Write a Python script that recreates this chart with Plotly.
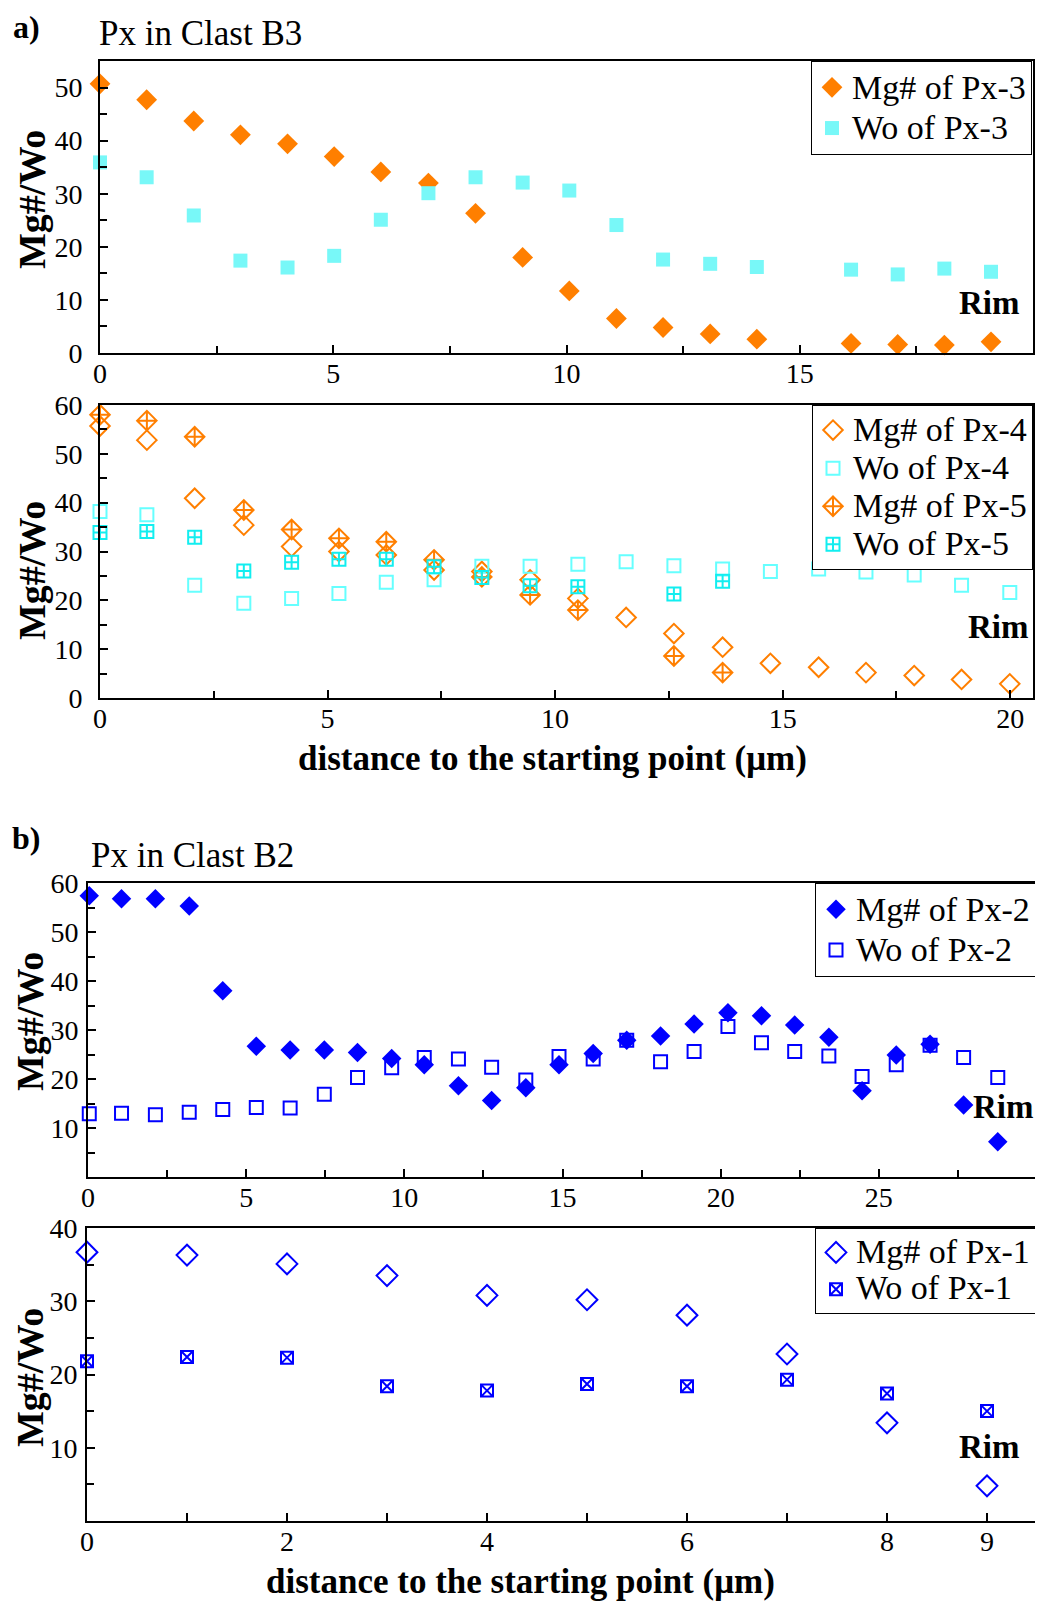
import plotly.graph_objects as go

SERIF = "Liberation Serif, Times New Roman, serif"
ORANGE = "#FF7F00"
CYAN_LIGHT = "#78F8F8"
CYAN_OPEN = "#66FFFF"
CYAN_X = "#12EEF0"
BLUE = "#0000FF"

# ---------------- Panel a (top): Px-3 ----------------
x_px3 = [0, 1.0, 2.01, 3.01, 4.02, 5.02, 6.02, 7.04, 8.05, 9.06, 10.06,
         11.07, 12.07, 13.08, 14.08, 16.1, 17.1, 18.1, 19.1]
mg_px3 = [50.7, 47.7, 43.7, 41.1, 39.4, 37.0, 34.1, 32.0, 26.3, 18.0, 11.7,
          6.5, 4.8, 3.6, 2.6, 1.8, 1.6, 1.5, 2.1]
wo_px3 = [35.9, 33.1, 25.9, 17.4, 16.1, 18.3, 25.1, 30.1, 33.1, 32.1, 30.6,
          24.1, 17.6, 16.8, 16.2, 15.7, 14.8, 15.9, 15.3]

# ---------------- Panel a (bottom): Px-4, Px-5 ----------------
x_px4 = [0, 1.03, 2.08, 3.16, 4.21, 5.25, 6.29, 7.34, 8.39, 9.45, 10.5,
         11.56, 12.61, 13.68, 14.73, 15.79, 16.83, 17.89, 18.93, 19.99]
mg_px4 = [55.7, 52.8, 40.9, 35.4, 31.0, 30.0, 29.3, 26.2, 25.9, 24.2, 20.4,
          16.5, 13.2, 10.4, 7.1, 6.3, 5.2, 4.6, 3.8, 2.9]
wo_px4 = [38.2, 37.5, 23.1, 19.4, 20.4, 21.4, 23.7, 24.2, 27.0, 27.0, 27.4,
          27.9, 27.1, 26.4, 25.9, 26.4, 25.8, 25.2, 23.1, 21.6]
x_px5 = [0, 1.03, 2.08, 3.16, 4.21, 5.25, 6.29, 7.34, 8.39, 9.45, 10.5,
         12.61, 13.68]
mg_px5 = [58.0, 56.8, 53.5, 38.5, 34.5, 32.7, 32.0, 28.3, 24.8, 21.1, 18.0,
          8.6, 5.2]
wo_px5 = [33.9, 34.1, 32.9, 26.0, 27.8, 28.4, 28.4, 26.9, 24.7, 23.0, 22.8,
          21.3, 23.9]

# ---------------- Panel b (top): Px-2 ----------------
x_px2 = [0.04, 1.06, 2.13, 3.2, 4.26, 5.32, 6.39, 7.47, 8.52, 9.6, 10.63,
         11.71, 12.76, 13.84, 14.89, 15.97, 17.03, 18.1, 19.16, 20.23, 21.29,
         22.34, 23.42, 24.47, 25.55, 26.62, 27.68, 28.76]
mg_px2 = [57.4, 56.8, 56.8, 55.3, 38.0, 26.7, 25.9, 25.9, 25.4, 24.2, 22.9,
          18.6, 15.6, 18.2, 22.9, 25.2, 27.9, 28.8, 31.2, 33.5, 32.9, 31.0,
          28.5, 17.6, 24.9, 27.1, 14.7, 7.2]
wo_px2 = [12.9, 13.0, 12.7, 13.2, 13.8, 14.2, 14.1, 16.9, 20.3, 22.3, 24.4,
          24.1, 22.4, 19.8, 24.6, 24.1, 27.9, 23.5, 25.6, 30.7, 27.4, 25.6,
          24.7, 20.5, 22.9, 26.9, 24.4, 20.3]

# ---------------- Panel b (bottom): Px-1 ----------------
x_px1 = [0, 1, 2, 3, 4, 5, 6, 7, 8, 9]
mg_px1 = [36.7, 36.3, 35.1, 33.5, 30.8, 30.2, 28.1, 22.8, 13.4, 4.8]
wo_px1 = [21.8, 22.4, 22.3, 18.4, 17.8, 18.7, 18.4, 19.3, 17.4, 15.0]

# tick labels
x4_ticks = [0, 1, 2, 3, 4, 5, 6, 7, 8, 9]
x4_text = ["0", "", "2", "", "4", "", "6", "", "8", "9"]

# the page body has an 8px margin: the figure starts 8px in from the corner
OFF = 8
W, H = 1043 - OFF, 1602 - OFF


def px_x(p):
    return min(1.0, max(0.0, (p - OFF) / W))


def px_y(p):
    return min(1.0, max(0.0, 1 - (p - OFF) / H))


def lname(t):
    return '<span style="font-size:34px">' + t + "</span>"


fig = go.Figure()


def sc(x, y, name, xa, ya, leg, symbol, size, color, lw=0):
    marker = dict(symbol=symbol, size=size, color=color,
                  line=dict(color=color, width=lw))
    fig.add_trace(go.Scatter(x=x, y=y, name=lname(name), mode="markers",
                             marker=marker, xaxis=xa, yaxis=ya, legend=leg,
                             cliponaxis=False))


sc(x_px3, mg_px3, "Mg# of Px-3", "x", "y", "legend", "diamond", 16, ORANGE)
sc(x_px3, wo_px3, "Wo of Px-3", "x", "y", "legend", "square", 14, CYAN_LIGHT)

sc(x_px4, mg_px4, "Mg# of Px-4", "x2", "y2", "legend2", "diamond-open", 15, ORANGE, 2)
sc(x_px4, wo_px4, "Wo of Px-4", "x2", "y2", "legend2", "square-open", 13, CYAN_OPEN, 2)
sc(x_px5, mg_px5, "Mg# of Px-5", "x2", "y2", "legend2", "diamond-cross-open", 15, ORANGE, 2)
sc(x_px5, wo_px5, "Wo of Px-5", "x2", "y2", "legend2", "square-cross-open", 13, CYAN_X, 2)

sc(x_px2, mg_px2, "Mg# of Px-2", "x3", "y3", "legend3", "diamond", 15, BLUE)
sc(x_px2, wo_px2, "Wo of Px-2", "x3", "y3", "legend3", "square-open", 13, BLUE, 2)

sc(x_px1, mg_px1, "Mg# of Px-1", "x4", "y4", "legend4", "diamond-open", 16, BLUE, 2)
sc(x_px1, wo_px1, "Wo of Px-1", "x4", "y4", "legend4", "square-x-open", 12, BLUE, 2)

tickfont = dict(family=SERIF, size=28, color="black")


def xaxis(dom, anchor, rng, dtick=None, minor_dtick=None, tickvals=None,
          ticktext=None):
    d = dict(domain=[px_x(dom[0]), px_x(dom[1])], range=rng, anchor=anchor,
             showline=True, linecolor="black", linewidth=2, mirror=True,
             ticks="inside", ticklen=8, tickwidth=2, tickcolor="black",
             showgrid=False, zeroline=False, tickfont=tickfont,
             ticklabelstandoff=-6, fixedrange=True, automargin=False)
    if tickvals is not None:
        d.update(tickmode="array", tickvals=tickvals, ticktext=ticktext)
    else:
        d.update(tick0=0, dtick=dtick)
    if minor_dtick:
        d["minor"] = dict(ticks="inside", ticklen=7, tickwidth=2,
                          tickcolor="black", dtick=minor_dtick, tick0=0,
                          showgrid=False)
    return d


def yaxis(dom, anchor, rng, tickvals, standoff):
    return dict(domain=[px_y(dom[0]), px_y(dom[1])], range=rng, anchor=anchor,
                showline=True, linecolor="black", linewidth=2, mirror=True,
                ticks="inside", ticklen=8, tickwidth=2, tickcolor="black",
                showgrid=False, zeroline=False, tickfont=tickfont,
                tickmode="array", tickvals=tickvals,
                ticklabelstandoff=standoff,
                minor=dict(ticks="inside", ticklen=7, tickwidth=2,
                           tickcolor="black", dtick=5, tick0=0, showgrid=False),
                fixedrange=True, automargin=False)


fig.update_layout(
    width=W, height=H, autosize=False,
    margin=dict(l=0, r=0, t=0, b=0, pad=0, autoexpand=False),
    paper_bgcolor="white", plot_bgcolor="white",
    font=dict(family=SERIF, color="black"),
    xaxis=xaxis((100, 1033), "y", [0, 20], dtick=5, minor_dtick=2.5),
    yaxis=yaxis((353, 61), "x", [0, 55], [0, 10, 20, 30, 40, 50], 10),
    xaxis2=xaxis((100, 1033), "y2", [0, 20.5], dtick=5, minor_dtick=2.5),
    yaxis2=yaxis((698, 405), "x2", [0, 60], [0, 10, 20, 30, 40, 50, 60], 10),
    xaxis3=xaxis((88, 1037), "y3", [0, 30], dtick=5, minor_dtick=2.5),
    yaxis3=yaxis((1177, 883), "x3", [0, 60], [10, 20, 30, 40, 50, 60], 2),
    xaxis4=xaxis((87, 1037), "y4", [0, 9.5], tickvals=x4_ticks, ticktext=x4_text),
    yaxis4=yaxis((1521, 1228), "x4", [0, 40], [10, 20, 30, 40], 2),
)


def legend(right, top, base):
    return dict(x=px_x(right), y=px_y(top), xanchor="right", yanchor="top",
                bgcolor="white", bordercolor="black", borderwidth=1,
                font=dict(family=SERIF, size=base, color="black"),
                itemclick=False, itemdoubleclick=False)


fig.update_layout(
    legend=legend(1032, 61, 29),
    legend2=legend(1033, 405, 27),
    legend3=legend(1036, 883, 29),
    legend4=legend(1036, 1228, 26),
    showlegend=True,
)

ann = []


def add_text(text, x, y, size, bold=False, xanchor="center", angle=0):
    ann.append(dict(text=("<b>" + text + "</b>") if bold else text,
                    x=px_x(x), y=px_y(y), xref="paper", yref="paper",
                    xanchor=xanchor, yanchor="middle", showarrow=False,
                    textangle=angle, borderpad=0,
                    font=dict(family=SERIF, size=size, color="black")))


XT = "distance to the starting point (μm)"
YT = "Mg#/Wo"

add_text("a)", 26, 27, 32, bold=True)
add_text("Px in Clast B3", 98, 34, 35, xanchor="left")
add_text("b)", 26, 838, 32, bold=True)
add_text("Px in Clast B2", 90, 855, 35, xanchor="left")
add_text("Rim", 989, 303, 33, bold=True)
add_text("Rim", 998, 627, 33, bold=True)
add_text("Rim", 1003, 1107, 33, bold=True)
add_text("Rim", 989, 1447, 33, bold=True)
# axis titles
add_text(YT, 32, 200, 38, bold=True, angle=-90)
add_text(YT, 32, 571, 38, bold=True, angle=-90)
add_text(YT, 30, 1022, 38, bold=True, angle=-90)
add_text(YT, 30, 1378, 38, bold=True, angle=-90)
add_text(XT, 552, 759, 35, bold=True)
add_text(XT, 520, 1581, 35, bold=True)
fig.update_layout(annotations=ann)

fig.write_html("out.html")
